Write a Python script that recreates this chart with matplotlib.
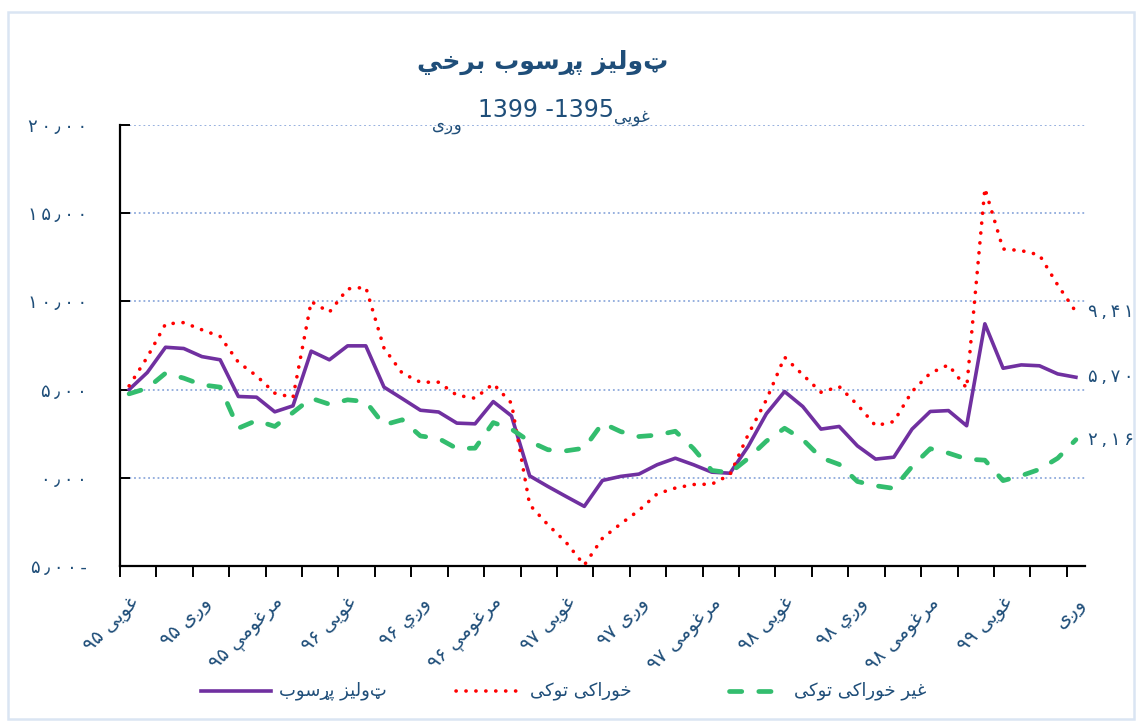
import re
import numpy as np
import matplotlib
matplotlib.use("Agg")
import matplotlib.pyplot as plt
from matplotlib.lines import Line2D
from matplotlib.patches import Rectangle

plt.rcParams['font.family'] = ['DejaVu Sans']

# monthly series, Ghwayai 1395 .. Wagai 1399 (53 months)
overall = [5.00, 5.97, 7.40, 7.33, 6.87, 6.69, 4.61, 4.57, 3.74, 4.08,
           7.18, 6.69, 7.48, 7.48, 5.14, 4.49, 3.83, 3.73, 3.10, 3.06,
           4.32, 3.51, 0.11, -0.49, -1.06, -1.62, -0.15, 0.08, 0.21, 0.74,
           1.11, 0.74, 0.32, 0.26, 1.78, 3.63, 4.89, 4.04, 2.76, 2.91,
           1.81, 1.06, 1.17, 2.76, 3.76, 3.81, 2.95, 8.73, 6.21, 6.40,
           6.35, 5.89, 5.70]
food = [5.21, 6.84, 8.72, 8.80, 8.39, 8.01, 6.55, 5.78, 4.80, 4.55,
        9.99, 9.39, 10.71, 10.80, 7.35, 5.93, 5.42, 5.42, 4.68, 4.51,
        5.33, 4.23, -1.53, -2.66, -3.66, -4.95, -3.42, -2.61, -1.85, -0.91,
        -0.58, -0.38, -0.36, 0.17, 2.45, 4.42, 6.84, 5.84, 4.85, 5.17,
        4.14, 2.95, 3.19, 4.89, 5.93, 6.40, 5.08, 16.41, 12.97, 12.88,
        12.63, 10.93, 9.41]
nonfood = [4.76, 5.08, 5.93, 5.65, 5.27, 5.14, 2.81, 3.25, 2.91, 3.70,
           4.51, 4.17, 4.42, 4.32, 3.00, 3.29, 2.37, 2.23, 1.66, 1.68,
           3.13, 2.76, 2.06, 1.59, 1.53, 1.68, 3.10, 2.62, 2.34, 2.42,
           2.64, 1.65, 0.42, 0.28, 1.10, 2.08, 2.81, 2.17, 1.14, 0.76,
           -0.21, -0.45, -0.60, 0.64, 1.65, 1.40, 1.06, 1.00, -0.16, 0.12,
           0.48, 1.11, 2.16]

series_names = ["ټولیز پړسوب", "خوراکی توکی", "غیر خوراکی توکی"]
x_labels = ["غويی ۹۵", "وږی ۹۵", "مرغومې ۹۵", "غويی ۹۶", "وږي ۹۶",
            "مرغومې ۹۶", "غويی ۹۷", "وږی ۹۷", "مرغومی ۹۷", "غويی ۹۸",
            "وږي ۹۸", "مرغومی ۹۸", "غويی ۹۹", "وږی"]
y_ticks = [-5, 0, 5, 10, 15, 20]

title = "ټولیز پړسوب برخي"
sub_from = "غويی"
sub_to = "وږی"
sub_years = "1399 -1395"

# --- minimal arabic shaping (matplotlib has no RTL layout) ---
DUAL = {
    'ب': '\uFE8F\uFE90\uFE91\uFE92', 'ت': '\uFE95\uFE96\uFE97\uFE98',
    'خ': '\uFEA5\uFEA6\uFEA7\uFEA8', 'س': '\uFEB1\uFEB2\uFEB3\uFEB4',
    'غ': '\uFECD\uFECE\uFECF\uFED0', 'ل': '\uFEDD\uFEDE\uFEDF\uFEE0',
    'م': '\uFEE1\uFEE2\uFEE3\uFEE4', 'ي': '\uFEF1\uFEF2\uFEF3\uFEF4',
    'پ': '\uFB56\uFB57\uFB58\uFB59', 'ک': '\uFB8E\uFB8F\uFB90\uFB91',
    'ی': '\uFBFC\uFBFD\uFBFE\uFBFF', 'ې': '\uFBE4\uFBE5\uFBE6\uFBE7',
}
RIGHT = {
    'ا': '\uFE8D\uFE8E', 'ر': '\uFEAD\uFEAE', 'ز': '\uFEAF\uFEB0',
    'و': '\uFEED\uFEEE', 'ږ': 'ږږ', 'ړ': 'ړړ',
}


def shape(word):
    out = []
    for i, ch in enumerate(word):
        prev = word[i - 1] if i > 0 else ''
        nxt = word[i + 1] if i + 1 < len(word) else ''
        if ch in DUAL:
            forms = DUAL[ch]
            jn = nxt in DUAL or nxt in RIGHT
        elif ch in RIGHT:
            forms = RIGHT[ch]
            jn = False
        else:
            out.append(ch)
            continue
        jp = prev in DUAL
        if jp and jn:
            out.append(forms[3])
        elif jp:
            out.append(forms[1])
        elif jn:
            out.append(forms[2])
        else:
            out.append(forms[0])
    return ''.join(out)


def rtl(s):
    runs = re.findall(r'[0-9\u06F0-\u06F9]+|[^\s0-9\u06F0-\u06F9\-]+|[\s\-]+', s)
    vis = [r if r[0].isdigit() else shape(r)[::-1] for r in runs]
    return ''.join(reversed(vis))


def fa_num(v):
    s = f"{abs(v):.2f}"
    s = '\u2009'.join(chr(0x06F0 + int(c)) if c.isdigit() else '٫' for c in s)
    return s + ('\u2009-' if v < 0 else '')


def fa_end(v):
    s = f"{v:.2f}"
    return '\u2009'.join(chr(0x06F0 + int(c)) if c.isdigit() else ',' for c in s)


W, H = 1143, 726
TXT = '#1F4E79'
fig = plt.figure(figsize=(W / 100, H / 100), dpi=100)
ax = fig.add_axes([120 / W, 1 - 566 / H, (1085 - 120) / W, (566 - 125) / H])

x = np.arange(len(overall))
ax.plot(x, overall, color='#7030A0', lw=2.6, solid_joinstyle='round', zorder=3)
ax.plot(x, food, color='#FF0000', lw=2.6, linestyle=(0, (0.05, 2.7)),
        dash_capstyle='round', zorder=4, clip_on=False)
ax.plot(x, nonfood, color='#33BD6E', lw=3.4, linestyle=(0, (2.6, 3.6)),
        dash_capstyle='round', zorder=5)

ax.set_xlim(-0.5, len(overall) - 0.5)
ax.set_ylim(-5, 20)

for s in ['top', 'right']:
    ax.spines[s].set_visible(False)
for s in ['left', 'bottom']:
    ax.spines[s].set_linewidth(1.6)

ax.set_yticks(y_ticks)
ax.set_yticklabels([fa_num(v) for v in y_ticks])
ax.tick_params(axis='y', direction='in', length=7, width=1.4, pad=24,
               labelsize=13, labelcolor=TXT)
ax.yaxis.grid(True, color='#8FAADC', lw=1.3, linestyle=(0, (1, 1.6)))
ax.set_axisbelow(True)

ax.set_xticks(np.arange(-0.5, len(overall) - 1, 2))
ax.set_xticklabels([])
ax.tick_params(axis='x', which='major', direction='out', length=8, width=1.4)
ax.set_xticks(np.arange(0, len(overall), 4), minor=True)
ax.set_xticklabels([rtl(t) for t in x_labels], minor=True, rotation=45,
                   ha='right', va='top', rotation_mode='anchor')
ax.tick_params(axis='x', which='minor', length=0, pad=20, labelsize=14,
               labelcolor=TXT)

# end-of-line value labels
for vals in (food, overall, nonfood):
    ax.annotate(fa_end(vals[-1]), (x[-1], vals[-1]), xytext=(9, 0),
                textcoords='offset points', va='center', ha='left',
                fontsize=13, color=TXT, annotation_clip=False)


def fx(px):
    return px / W


def fy(py):
    return 1 - py / H


fig.text(fx(543), fy(62), rtl(title), ha='center', va='center', fontsize=18,
         fontweight='bold', color=TXT)
fig.text(fx(546), fy(110), sub_years, ha='center', va='center', fontsize=17,
         color=TXT)
fig.text(fx(614), fy(117), rtl(sub_from), ha='left', va='center',
         fontsize=12, color=TXT)
fig.text(fx(462), fy(125), rtl(sub_to), ha='right', va='center',
         fontsize=12, color=TXT)

# legend
leg_y = fy(691)
leg = [((201, 271), dict(color='#7030A0', lw=2.6)),
       ((456, 522), dict(color='#FF0000', lw=2.6, linestyle=(0, (0.05, 2.7)),
                         dash_capstyle='round')),
       ((729, 786), dict(color='#33BD6E', lw=3.4, linestyle=(0, (2.6, 3.6)),
                         dash_capstyle='round'))]
for name, ((x0, x1), kw) in zip(series_names, leg):
    fig.add_artist(Line2D([fx(x0), fx(x1)], [leg_y, leg_y],
                          transform=fig.transFigure, **kw))
    fig.text(fx(x1 + 8), leg_y, rtl(name), ha='left', va='center',
             fontsize=13, color=TXT)

fig.add_artist(Rectangle((fx(8), fy(719)), fx(1134) - fx(8), fy(12) - fy(719),
                         transform=fig.transFigure, fill=False,
                         edgecolor='#DAE5F3', lw=1.8))

fig.savefig('out.png', dpi=100)
